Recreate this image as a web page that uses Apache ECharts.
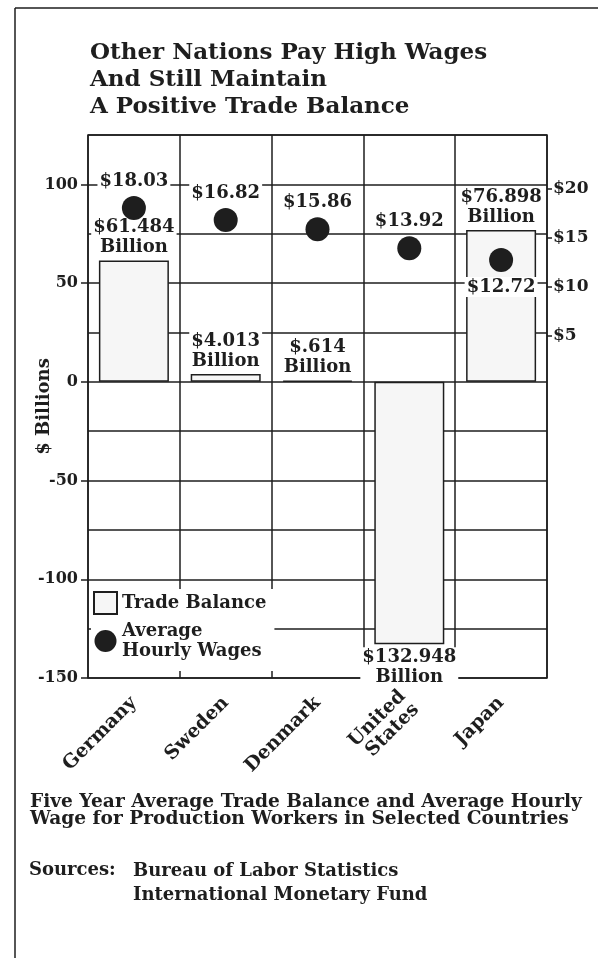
<!DOCTYPE html>
<html>
<head>
<meta charset="utf-8">
<script src="https://cdn.jsdelivr.net/npm/echarts@6/dist/echarts.min.js"></script>
</head>
<body style="margin:0;background:#fff">
<div id="container" style="width:598px;height:958px"></div>
<script>
var countries = ['Germany', 'Sweden', 'Denmark', 'United\nStates', 'Japan'];
var tradeBalance = [61.484, 4.013, 0.614, -132.948, 76.898];   // $ billions
var hourlyWage = [18.03, 16.82, 15.86, 13.92, 12.72];          // $ per hour
var leftLabels = [-150, -100, -50, 0, 50, 100];
var rightLabels = [5, 10, 15, 20];

var ink = '#1e1e1e';
var serif = 'DejaVu Serif';
var chart = echarts.init(document.getElementById('container'));

function money(v) {
    return '$' + String(Math.abs(v)).replace(/^0\./, '.');
}

var labelBox = {
    fontFamily: serif, fontWeight: 'bold', fontSize: 18, color: ink,
    backgroundColor: '#fff', padding: [0, 2], lineHeight: 20
};

var option = {
    animation: false,
    backgroundColor: '#fff',
    textStyle: { fontFamily: serif },
    title: [
        {
            text: 'Other Nations Pay High Wages\nAnd Still Maintain\nA Positive Trade Balance',
            left: 85, top: 35,
            textStyle: { fontFamily: serif, fontWeight: 'bold', fontSize: 23, lineHeight: 27, color: ink }
        },
        {
            text: 'Five Year Average Trade Balance and Average Hourly\nWage for Production Workers in Selected Countries',
            left: 25, top: 789,
            textStyle: { fontFamily: serif, fontWeight: 'bold', fontSize: 18.6, lineHeight: 17, color: ink }
        },
        {
            text: 'Sources:',
            left: 24, top: 856,
            textStyle: { fontFamily: serif, fontWeight: 'bold', fontSize: 18, color: ink }
        },
        {
            text: 'Bureau of Labor Statistics\nInternational Monetary Fund',
            left: 128, top: 854,
            textStyle: { fontFamily: serif, fontWeight: 'bold', fontSize: 18, lineHeight: 24, color: ink }
        }
    ],
    graphic: [
        { type: 'line', shape: { x1: 15, y1: 8, x2: 598, y2: 8 }, style: { stroke: ink, lineWidth: 1.5 } },
        { type: 'line', shape: { x1: 15, y1: 8, x2: 15, y2: 958 }, style: { stroke: ink, lineWidth: 1.5 } }
    ],
    legend: {
        orient: 'vertical',
        left: 91, top: 589,
        itemWidth: 23, itemHeight: 22, itemGap: 0,
        backgroundColor: '#fff',
        padding: [2, 8, 4, 2],
        textStyle: { fontFamily: serif, fontWeight: 'bold', fontSize: 18, lineHeight: 20, color: ink },
        formatter: function (name) { return name === 'Average Hourly Wages' ? 'Average\nHourly Wages' : name; },
        data: [
            { name: 'Trade Balance', icon: 'rect' },
            { name: 'Average Hourly Wages', icon: 'circle', textStyle: { padding: [12, 0, 0, 0] } }
        ]
    },
    grid: {
        left: 88, right: 51, top: 135, bottom: 280,
        show: true, borderColor: ink, borderWidth: 1.5
    },
    xAxis: {
        type: 'category',
        data: countries,
        axisLine: { show: false },
        axisTick: { show: false },
        splitLine: { show: true, lineStyle: { color: ink, width: 1.5 } },
        axisLabel: {
            rotate: 45, margin: 22, interval: 0,
            fontFamily: serif, fontWeight: 'bold', fontSize: 19, lineHeight: 19, color: ink
        }
    },
    yAxis: [
        {
            // gridlines every $25 billion
            type: 'value', min: -150, max: 125, interval: 25,
            name: '$ Billions', nameLocation: 'middle', nameGap: 35, nameRotate: 90,
            nameMoveOverlap: false,
            nameTextStyle: { fontFamily: serif, fontWeight: 'bold', fontSize: 18, color: ink },
            axisLine: { show: false },
            axisTick: { show: false },
            axisLabel: { show: false },
            splitLine: { show: true, lineStyle: { color: ink, width: 1.5 } }
        },
        {
            // hourly wage scale
            type: 'value', min: -30, max: 25.5, interval: 5,
            position: 'right',
            axisLine: { show: false },
            axisTick: { show: true, length: 5, customValues: rightLabels, lineStyle: { color: ink, width: 1.5 } },
            axisLabel: {
                customValues: rightLabels, margin: 6,
                fontFamily: serif, fontWeight: 'bold', fontSize: 17, color: ink,
                formatter: function (v) { return '$' + v; }
            },
            splitLine: { show: false }
        },
        {
            // labelled ticks every $50 billion
            type: 'value', min: -150, max: 125, interval: 25,
            position: 'left',
            axisLine: { show: false },
            axisTick: { show: true, length: 7, customValues: leftLabels, lineStyle: { color: ink, width: 1.5 } },
            axisLabel: { customValues: leftLabels, margin: 10, fontFamily: serif, fontWeight: 'bold', fontSize: 16, color: ink },
            splitLine: { show: false }
        }
    ],
    series: [
        {
            name: 'Trade Balance',
            type: 'bar',
            barWidth: 70,
            itemStyle: { color: '#f6f6f6', borderColor: ink, borderWidth: 1.5 },
            data: tradeBalance.map(function (v) {
                return {
                    value: v,
                    label: { position: v < 0 ? 'bottom' : 'top' }
                };
            }),
            label: Object.assign({
                show: true, distance: 3,
                formatter: function (p) { return money(p.value) + '\nBillion'; }
            }, labelBox)
        },
        {
            name: 'Average Hourly Wages',
            type: 'scatter',
            yAxisIndex: 1,
            symbol: 'circle',
            symbolSize: 24,
            itemStyle: { color: ink, opacity: 1 },
            z: 3,
            data: hourlyWage.map(function (v, i) {
                return {
                    value: v,
                    label: { position: i === hourlyWage.length - 1 ? 'bottom' : 'top' }
                };
            }),
            label: Object.assign({
                show: true, distance: 5,
                formatter: function (p) { return money(p.value); }
            }, labelBox)
        }
    ]
};

chart.setOption(option);
</script>
</body>
</html>
